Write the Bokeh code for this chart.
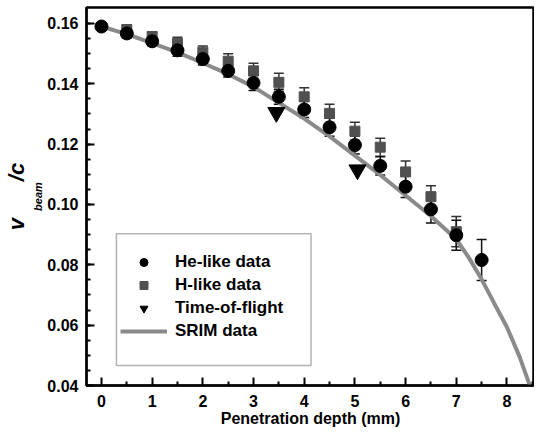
from bokeh.plotting import figure
from bokeh.models import (ColumnDataSource, Whisker, TeeHead, Legend, LegendItem,
                          BoxAnnotation, FixedTicker, Range1d, LinearAxis)
from bokeh.embed import file_html
from bokeh.resources import INLINE

# ---- data ----
he_x = [0, 0.5, 1, 1.5, 2, 2.5, 3, 3.5, 4, 4.5, 5, 5.5, 6, 6.5, 7, 7.5]
he_y = [0.159, 0.1567, 0.1541, 0.1511, 0.1482, 0.1443, 0.1403, 0.1357, 0.1315,
        0.1256, 0.1197, 0.1128, 0.1059, 0.0984, 0.0898, 0.0816]
he_err = [0.001, 0.0015, 0.0015, 0.002, 0.002, 0.002, 0.0025, 0.0025, 0.0027,
          0.003, 0.003, 0.003, 0.0036, 0.0045, 0.005, 0.0068]

h_x = [0.5, 1, 1.5, 2, 2.5, 3, 3.5, 4, 4.5, 5, 5.5, 6, 6.5, 7]
h_y = [0.158, 0.1557, 0.1534, 0.1505, 0.1475, 0.1443, 0.1405, 0.1357, 0.1302,
       0.1243, 0.119, 0.1108, 0.1026, 0.091]
h_err = [0.0015, 0.0015, 0.002, 0.002, 0.0025, 0.0025, 0.003, 0.003, 0.003,
         0.003, 0.003, 0.0036, 0.0036, 0.005]

tof_x = [3.45, 5.05]
tof_y = [0.1305, 0.1115]

srim_x = [0, 0.5, 1, 1.5, 2, 2.5, 3, 3.5, 4, 4.5, 5, 5.5, 6, 6.5, 7, 7.25, 7.5,
          7.75, 8, 8.25, 8.45]
srim_y = [0.159, 0.1565, 0.1535, 0.1504, 0.1469, 0.1432, 0.139, 0.1337, 0.1285,
          0.1226, 0.1162, 0.1098, 0.103, 0.0962, 0.0885, 0.0823, 0.0752,
          0.0672, 0.0593, 0.0495, 0.040]

x_ticks = [0, 1, 2, 3, 4, 5, 6, 7, 8]
y_ticks = [0.04, 0.06, 0.08, 0.10, 0.12, 0.14, 0.16]
y_tick_labels = {0.04: "0.04", 0.06: "0.06", 0.08: "0.08", 0.10: "0.10",
                 0.12: "0.12", 0.14: "0.14", 0.16: "0.16"}

FONT = "Liberation Sans"
NB = "\u00a0"

p = figure(width=534, height=429, output_backend="svg", toolbar_location=None,
           x_range=Range1d(-0.295, 8.543), y_range=Range1d(0.04, 0.1653),
           min_border_left=85, min_border_right=0, min_border_top=7, min_border_bottom=0)
p.grid.visible = False
p.outline_line_color = "black"
p.outline_line_width = 2.5
p.background_fill_color = "white"
p.border_fill_color = "white"

he_src = ColumnDataSource(dict(x=he_x, y=he_y,
                               lo=[a - b for a, b in zip(he_y, he_err)],
                               hi=[a + b for a, b in zip(he_y, he_err)]))
h_src = ColumnDataSource(dict(x=h_x, y=h_y,
                              lo=[a - b for a, b in zip(h_y, h_err)],
                              hi=[a + b for a, b in zip(h_y, h_err)]))

srim = p.line(srim_x, srim_y, line_color="#8a8a8a", line_width=4)

for src, col in ((h_src, "#333333"), (he_src, "#111111")):
    w = Whisker(source=src, base="x", lower="lo", upper="hi",
                line_color=col, line_width=1.5,
                upper_head=TeeHead(size=10, line_color=col, line_width=1.5),
                lower_head=TeeHead(size=10, line_color=col, line_width=1.5))
    p.add_layout(w)

h_r = p.scatter("x", "y", source=h_src, marker="square", size=10,
                fill_color="#505050", line_color="#505050")
he_r = p.scatter("x", "y", source=he_src, marker="circle", size=13,
                 fill_color="black", line_color="black")
tof_r = p.scatter(tof_x, tof_y, marker="inverted_triangle", size=17,
                  fill_color="black", line_color="black")

# axes
for ax in (p.xaxis[0], p.yaxis[0]):
    ax.axis_line_width = 2
    ax.axis_line_color = "black"
    ax.major_tick_in = 8
    ax.major_tick_out = 0
    ax.minor_tick_in = 4
    ax.minor_tick_out = 0
    ax.major_tick_line_width = 2
    ax.minor_tick_line_width = 2
    ax.major_tick_line_color = "black"
    ax.minor_tick_line_color = "black"
    ax.major_label_text_font = FONT
    ax.major_label_text_font_style = "bold"
    ax.major_label_text_font_size = "16px"
    ax.major_label_text_color = "black"

p.xaxis.ticker = FixedTicker(ticks=x_ticks, minor_ticks=[v + 0.5 for v in x_ticks])
p.yaxis.ticker = FixedTicker(ticks=y_ticks,
                             minor_ticks=[round(0.04 + 0.005 * i, 3) for i in range(25)])
p.yaxis.major_label_overrides = y_tick_labels
p.xaxis.major_label_standoff = 9
p.yaxis.major_label_standoff = 8
p.xaxis.axis_label = "Penetration depth (mm)"
p.xaxis.axis_label_text_font = FONT
p.xaxis.axis_label_text_font_style = "bold"
p.xaxis.axis_label_text_font_size = "16px"
p.xaxis.axis_label_text_color = "black"
p.xaxis.axis_label_standoff = 0

# y axis label: v_beam / c built from two label-only axes
def label_axis(text, size, standoff):
    ax = LinearAxis(ticker=FixedTicker(ticks=[]), axis_line_alpha=0,
                    major_tick_in=0, major_tick_out=0, minor_tick_in=0, minor_tick_out=0,
                    major_label_text_alpha=0, axis_label=text,
                    axis_label_text_font=FONT, axis_label_text_font_style="bold italic",
                    axis_label_text_font_size=size, axis_label_text_color="black",
                    axis_label_standoff=standoff)
    p.add_layout(ax, "left")

label_axis("beam", "11px", 1)
label_axis("v" + NB * 6 + "/c", "22px", 0)

# legend
p.add_layout(BoxAnnotation(left=0.295, right=4.134, bottom=0.0466, top=0.0903,
                           fill_alpha=0, line_color="black", line_width=1.5))
legend = Legend(items=[LegendItem(label="He-like data", renderers=[he_r]),
                       LegendItem(label="H-like data", renderers=[h_r]),
                       LegendItem(label="Time-of-flight", renderers=[tof_r]),
                       LegendItem(label="SRIM data", renderers=[srim])],
                location=(30, 40), border_line_alpha=0, background_fill_alpha=0,
                padding=4, margin=0, spacing=3, glyph_width=47, glyph_height=20,
                label_standoff=8, label_text_font=FONT, label_text_font_style="bold",
                label_text_font_size="17px", label_text_color="black")
p.add_layout(legend)

open("out.html", "w").write(file_html(p, INLINE))
